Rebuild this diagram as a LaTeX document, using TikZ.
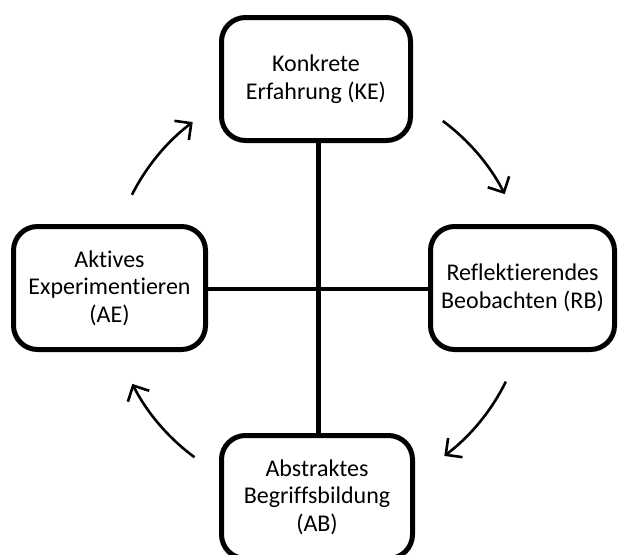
\documentclass[tikz,border=0pt]{standalone}
\usepackage{fontspec}
\setmainfont[Ligatures={NoCommon}]{Carlito}
\usetikzlibrary{arrows.meta,calc}
\begin{document}
\begin{tikzpicture}[x=1pt,y=-1pt,
  stagebox/.style={draw=black,line width=5pt,rounded corners=24pt,fill=white,
    inner sep=0pt,align=center,font=\fontsize{24}{27.5}\selectfont},
  crossline/.style={line width=4.5pt},
  cyclearrow/.style={line width=2.6pt,-{Straight Barb[length=12pt,width=24pt,line width=2.6pt]}}]
\useasboundingbox (0,0) rectangle (618,554);
\clip (0,0) rectangle (618,554);
\coordinate (c) at (318.5,289);
% lines behind boxes
\coordinate (vt) at (318.5,143);
\coordinate (vb) at (318.5,433);
\coordinate (hl) at (208,289);
\coordinate (hr) at (428,289);
\draw[crossline] (vt) -- (vb);
\draw[crossline] (hl) -- (hr);
\node[stagebox,minimum width=189pt,minimum height=123pt] (KE) at (316,79) {Konkrete\\Erfahrung (KE)};
\node[stagebox,minimum width=192pt,minimum height=123pt] (AE) at (109.5,288) {Aktives\\Experimentieren\\(AE)};
\node[stagebox,minimum width=184pt,minimum height=123pt] (RB) at (522.5,288) {Reflektierendes\\Beobachten (RB)};
\node[stagebox,minimum width=191pt,minimum height=123pt] (AB) at (317,497) {Abstraktes\\Begriffsbildung\\(AB)};
% cycle arrows (arcs around the centre)
\coordinate (a1) at ($(c)+(-153.2:209)$);
\coordinate (a2) at ($(c)+(-53.5:209)$);
\coordinate (a3) at ($(c)+(26.3:209)$);
\coordinate (a4) at ($(c)+(126.4:209)$);
\draw[cyclearrow] (a1) arc[start angle=-153.2,end angle=-127,radius=209];
\draw[cyclearrow] (a2) arc[start angle=-53.5,end angle=-27,radius=209];
\draw[cyclearrow] (a3) arc[start angle=26.3,end angle=53,radius=209];
\draw[cyclearrow] (a4) arc[start angle=126.4,end angle=153,radius=209];
\end{tikzpicture}
\end{document}
